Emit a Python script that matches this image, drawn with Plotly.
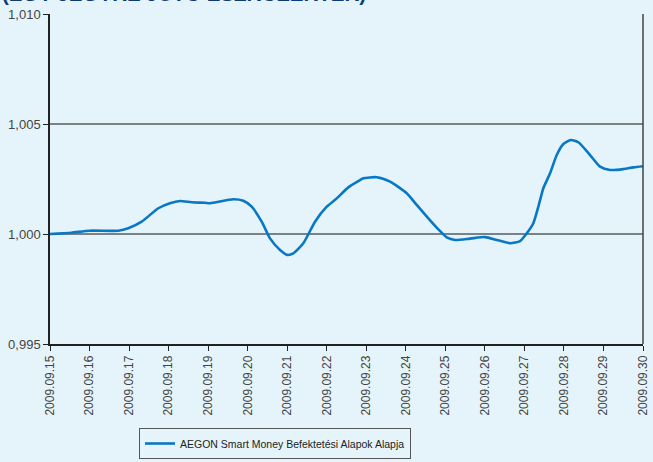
import plotly.graph_objects as go

series_name = "AEGON Smart Money Befektetési Alapok Alapja"
title_text = "(EGY JEGYRE JUTÓ ESZKÖZÉRTÉK)"

dates = [
    "2009-09-15 00:00", "2009-09-15 13:00", "2009-09-16 00:00", "2009-09-16 17:30",
    "2009-09-16 23:30", "2009-09-17 07:40", "2009-09-17 17:45", "2009-09-18 00:50",
    "2009-09-18 06:55", "2009-09-18 14:00", "2009-09-18 22:06", "2009-09-19 01:10",
    "2009-09-19 15:17", "2009-09-19 21:22", "2009-09-20 02:27", "2009-09-20 08:31",
    "2009-09-20 13:34", "2009-09-20 19:38", "2009-09-21 00:04", "2009-09-21 03:43",
    "2009-09-21 09:47", "2009-09-21 16:54", "2009-09-22 00:00", "2009-09-22 06:04",
    "2009-09-22 13:06", "2009-09-22 20:13", "2009-09-22 22:13", "2009-09-23 06:21",
    "2009-09-23 14:26", "2009-09-24 00:34", "2009-09-24 06:38", "2009-09-24 13:41",
    "2009-09-24 19:45", "2009-09-25 00:50", "2009-09-25 05:53", "2009-09-25 15:00",
    "2009-09-26 00:06", "2009-09-26 07:12", "2009-09-26 15:17", "2009-09-26 21:22",
    "2009-09-27 01:25", "2009-09-27 05:25", "2009-09-27 08:28", "2009-09-27 11:30",
    "2009-09-27 15:34", "2009-09-27 19:38", "2009-09-27 23:38", "2009-09-28 04:08",
    "2009-09-28 08:45", "2009-09-28 15:51", "2009-09-28 21:56", "2009-09-29 04:00",
    "2009-09-29 12:04", "2009-09-29 18:09", "2009-09-30 00:00",
]
values = [
    1.00000, 1.00006, 1.00015, 1.00015,
    1.00026, 1.00056, 1.00117, 1.00140,
    1.00150, 1.00144, 1.00142, 1.00140,
    1.00158, 1.00151, 1.00124, 1.00056,
    0.99980, 0.99927, 0.99905, 0.99912,
    0.99958, 1.00056, 1.00124, 1.00162,
    1.00212, 1.00245, 1.00253, 1.00258,
    1.00238, 1.00185, 1.00132, 1.00071,
    1.00021, 0.99985, 0.99973, 0.99979,
    0.99986, 0.99973, 0.99958, 0.99968,
    1.00003, 1.00049, 1.00124, 1.00208,
    1.00276, 1.00359, 1.00409, 1.00427,
    1.00417, 1.00359, 1.00306, 1.00291,
    1.00295, 1.00303, 1.00308,
]

tick_dates = ["2009-09-%02d" % d for d in range(15, 31)]
y_ticks = [0.995, 1.000, 1.005, 1.010]
grid_values = [1.000, 1.005]

bg = "#e5f4fa"
axis_col = "#222222"
label_col = "#444444"

fig = go.Figure()
fig.add_trace(go.Scatter(
    x=dates, y=values, mode="lines", name=series_name,
    line=dict(color="#0878c4", width=2.6, shape="spline", smoothing=0.6),
    showlegend=True,
))

for g in grid_values:
    fig.add_shape(type="line", xref="paper", yref="y", x0=0, x1=1, y0=g, y1=g,
                  line=dict(color="#111111", width=1.2), layer="below")
fig.add_shape(type="line", xref="paper", yref="paper", x0=1, x1=1, y0=0, y1=1,
              line=dict(color="#444444", width=1.5))

fig.add_annotation(text="<b>" + title_text + "</b>", xref="paper", yref="paper",
                   x=-50/593, y=1 + 7/330, xanchor="left", yanchor="bottom",
                   showarrow=False,
                   font=dict(family="Liberation Sans", size=20.5, color="#0d3b73"))

fig.update_layout(
    width=653, height=462,
    margin=dict(l=50, r=10, t=14, b=118, autoexpand=False),
    paper_bgcolor=bg, plot_bgcolor=bg,
    separators=", ",
    font=dict(family="Liberation Sans, Arial", size=12, color=label_col),
    showlegend=True,
    legend=dict(
        x=(139-50)/593, y=(344-428)/330, xanchor="left", yanchor="top",
        bgcolor=bg, bordercolor="#555555", borderwidth=1,
        font=dict(family="Liberation Sans Narrow, Arial Narrow, Liberation Sans", size=10.5, color="#222222"),
        itemwidth=30,
    ),
    xaxis=dict(
        type="date", range=["2009-09-15", "2009-09-30"], automargin=False,
        tickvals=tick_dates, tickformat="%Y.%m.%d", tickangle=-90,
        showgrid=False, showline=True, linecolor=axis_col, linewidth=1.5,
        ticks="outside", ticklen=5, tickcolor=axis_col,
        tickfont=dict(size=12, color=label_col), zeroline=False,
    ),
    yaxis=dict(
        range=[0.995, 1.010], tickvals=y_ticks, tickformat=".3f", automargin=False,
        showgrid=False, showline=True, linecolor=axis_col, linewidth=1.5,
        ticks="outside", ticklen=5, tickcolor=axis_col,
        tickfont=dict(size=13, color=label_col), zeroline=False,
    ),
)

fig.write_html(
    "out.html",
    config={"displayModeBar": False},
    post_script="document.body.style.margin='0';document.body.style.overflow='hidden';"
                "document.body.style.background='" + bg + "';",
)
